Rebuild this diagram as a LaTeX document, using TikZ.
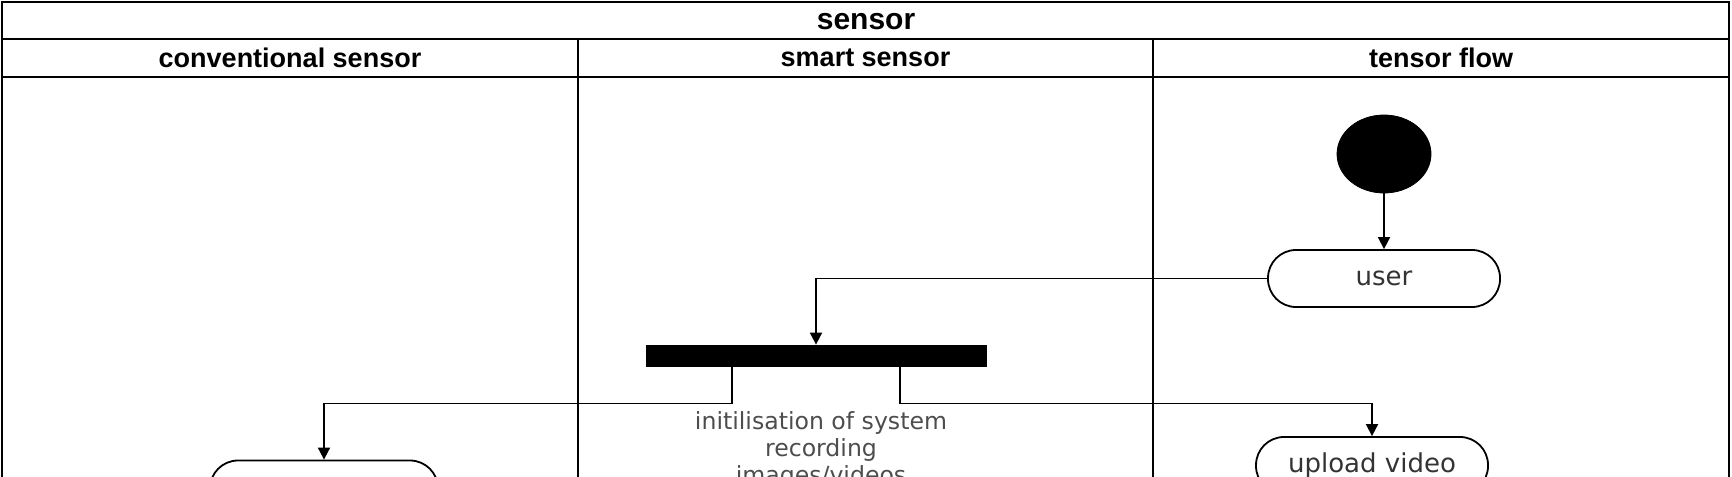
\documentclass[tikz,border=0pt]{standalone}
\usepackage{fontspec}
\setmainfont{Liberation Sans}
\newfontfamily\dvs{DejaVu Sans}
\usetikzlibrary{arrows.meta,shapes.geometric}
\definecolor{txt}{HTML}{333333}
\definecolor{anno}{HTML}{4D4D4D}
\tikzset{
  lane/.style={line width=1pt,draw=black},
  hdr/.style={font=\bfseries\fontsize{13.5}{16}\selectfont,text=black},
  act/.style={draw=black,line width=0.9pt,rounded corners=14pt,minimum width=116pt,minimum height=28.5pt,font=\dvs\fontsize{13}{15}\selectfont,text=txt,inner sep=0pt},
  arr/.style={line width=0.9pt,-{Triangle[length=6pt,width=6pt]}},
}
\begin{document}
\begin{tikzpicture}[x=0.5pt,y=-0.5pt]
\useasboundingbox (0,0) rectangle (1732,476);
\clip (0,0) rectangle (1732,476);
% swimlane frame
\draw[lane] (2,2) rectangle (1729,600);
\draw[lane] (2,39) -- (1729,39);
\draw[lane] (2,77) -- (1729,77);
\draw[lane] (578,39) -- (578,600);
\draw[lane] (1153,39) -- (1153,600);
\node[font=\bfseries\fontsize{15}{18}\selectfont] (title) at (866,22) {sensor};
\node[hdr] (h1) at (290,58) {conventional sensor};
\node[hdr] (h2) at (865.5,58) {smart sensor};
\node[hdr] (h3) at (1441,58) {tensor flow};
% nodes
\node[ellipse,fill=black,draw=black,minimum width=47pt,minimum height=39pt,inner sep=0pt] (start) at (1384,154) {};
\node[act] (user) at (1384,278.5) {user};
\node[rectangle,fill=black,draw=black,minimum width=170pt,minimum height=10.5pt,inner sep=0pt] (bar) at (816,355.5) {};
\node[act] (upload) at (1372,465.5) {upload video};
\node[act,minimum width=114pt] (conv) at (324,489) {};
\node[align=center,font=\dvs\fontsize{11.8}{13.5}\selectfont,text=anno] (note) at (821,450) {initilisation of system\\recording\\images/videos};
% connectors
\draw[arr] (start) -- (user);
\draw[arr] (user.west) -| (bar.north);
\draw[arr] ([xshift=-42pt]bar.south) -- ++(0,37) -| (conv.north);
\draw[arr] ([xshift=42pt]bar.south) -- ++(0,37) -| (upload.north);
\end{tikzpicture}
\end{document}
